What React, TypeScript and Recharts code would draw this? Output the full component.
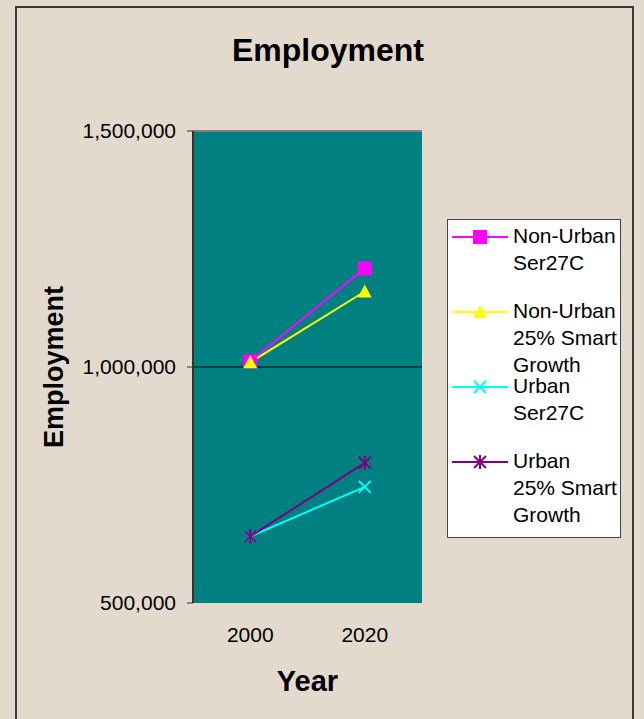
import { CartesianGrid, Label, Legend, Line, LineChart, ReferenceLine, XAxis, YAxis } from "recharts";

const years = ["2000", "2020"];
const nonUrbanSer27C = [1012000, 1209000];
const nonUrbanSmart = [1010000, 1160000];
const urbanSer27C = [641000, 746000];
const urbanSmart = [641000, 797000];
const yTicks = [500000, 1000000, 1500000];

const seriesNames = ["Non-Urban\nSer27C", "Non-Urban\n25% Smart\nGrowth", "Urban\nSer27C", "Urban\n25% Smart\nGrowth"];
const seriesKeys = ["nus", "nusg", "us", "usg"];
const seriesColors = ["#ff00ff", "#ffff00", "#00ffff", "#800080"];

const data = years.map((year, i) => ({
    year,
    nus: nonUrbanSer27C[i],
    nusg: nonUrbanSmart[i],
    us: urbanSer27C[i],
    usg: urbanSmart[i],
}));

const font = "'Liberation Sans', Arial, sans-serif";

// marker shapes, drawn around the point the library gives us
function Marker({ kind, cx, cy, color, s = 7 }: { kind: number, cx: number, cy: number, color: string, s?: number }) {
    if (kind === 0) return <rect x={cx - s} y={cy - s} width={s * 2} height={s * 2} fill={color} />;
    if (kind === 1) return <polygon points={`${cx},${cy - s} ${cx + s},${cy + s - 1} ${cx - s},${cy + s - 1}`} fill={color} />;
    if (kind === 2) return (
        <g stroke={color} strokeWidth={2}>
            <line x1={cx - s + 1} y1={cy - s + 1} x2={cx + s - 1} y2={cy + s - 1} />
            <line x1={cx - s + 1} y1={cy + s - 1} x2={cx + s - 1} y2={cy - s + 1} />
        </g>
    );
    return (
        <g stroke={color} strokeWidth={2}>
            <line x1={cx - s + 1} y1={cy - s + 1} x2={cx + s - 1} y2={cy + s - 1} />
            <line x1={cx - s + 1} y1={cy + s - 1} x2={cx + s - 1} y2={cy - s + 1} />
            <line x1={cx} y1={cy - s} x2={cx} y2={cy + s} />
        </g>
    );
}

function LegendBox() {
    return (
        <div style={{ position: "relative", width: 174, height: 319, background: "#fff", border: "1px solid #444", boxSizing: "border-box", fontFamily: font, fontSize: 21, color: "#000" }}>
            {seriesNames.map((name, i) => {
                const my = 17 + i * 75;
                return (
                    <div key={i}>
                        <svg width={62} height={20} style={{ position: "absolute", left: 2, top: my - 10 }}>
                            <line x1={2} y1={10} x2={58} y2={10} stroke={seriesColors[i]} strokeWidth={2} />
                            <Marker kind={i} cx={30} cy={10} color={seriesColors[i]} s={7} />
                        </svg>
                        <div style={{ position: "absolute", left: 65, top: my - 15, lineHeight: "27px", whiteSpace: "pre-line" }}>{name}</div>
                    </div>
                );
            })}
        </div>
    );
}

export default function App() {
    return (
        <div style={{ position: "absolute", left: 0, top: 0, width: 644, height: 719, overflow: "hidden", background: "#e3dacd", fontFamily: font }}>
            <div style={{ position: "absolute", left: 15, top: 6, width: 619, height: 730, border: "2px solid #3a3a3a", boxSizing: "border-box" }} />
            <div style={{ position: "absolute", left: 178, top: 34, width: 300, textAlign: "center", fontSize: 32, fontWeight: "bold", lineHeight: "32px" }}>Employment</div>
            <LineChart width={644} height={719} data={data} margin={{ top: 131, right: 222, bottom: 0, left: 0 }} style={{ position: "absolute", left: 0, top: 0 }}>
                <CartesianGrid fill="#008080" horizontal={false} vertical={false} />
                <XAxis xAxisId="ticks" type="number" domain={[0, 2]} ticks={[0, 1, 2]} tick={() => <g />} height={0} tickSize={6}
                    tickLine={{ stroke: "#333", strokeWidth: 1.5 }} axisLine={{ stroke: "#333", strokeWidth: 2 }} />
                <XAxis dataKey="year" scale="band" height={116} axisLine={false} tickLine={false} tickSize={0} tickMargin={24}
                    tick={{ fill: "#000", fontSize: 21, fontFamily: font }}>
                    <Label value="Year" position="insideBottom" offset={28} style={{ fontSize: 29, fontWeight: "bold", fill: "#000", fontFamily: font }} />
                </XAxis>
                <YAxis type="number" domain={[500000, 1500000]} ticks={yTicks} width={193} tickSize={6} tickMargin={11}
                    tickFormatter={(v: number) => v.toLocaleString("en-US")}
                    stroke="#333" axisLine={{ stroke: "#333", strokeWidth: 2 }}
                    tick={{ fill: "#000", fontSize: 21, fontFamily: font }}>
                    <Label value="Employment" angle={-90} position="insideLeft" offset={53}
                        style={{ fontSize: 27, fontWeight: "bold", fill: "#000", textAnchor: "middle", fontFamily: font }} />
                </YAxis>
                <ReferenceLine y={1000000} stroke="#000" strokeWidth={1} />
                <ReferenceLine y={1500000} stroke="#808080" strokeWidth={2} />
                <ReferenceLine x={2} xAxisId="ticks" stroke="#808080" strokeWidth={2} />
                {seriesKeys.map((key, i) => (
                    <Line key={key} dataKey={key} name={seriesNames[i]} stroke={seriesColors[i]} strokeWidth={2}
                        isAnimationActive={false}
                        dot={(p: any) => <Marker key={`${key}-${p.index}`} kind={i} cx={p.cx} cy={p.cy} color={seriesColors[i]} />}
                        activeDot={false} />
                ))}
                <Legend layout="horizontal" verticalAlign="middle" align="center" content={() => <LegendBox />}
                    wrapperStyle={{ left: 447, top: 219, width: 174, height: 319 }} />
            </LineChart>
        </div>
    );
}
